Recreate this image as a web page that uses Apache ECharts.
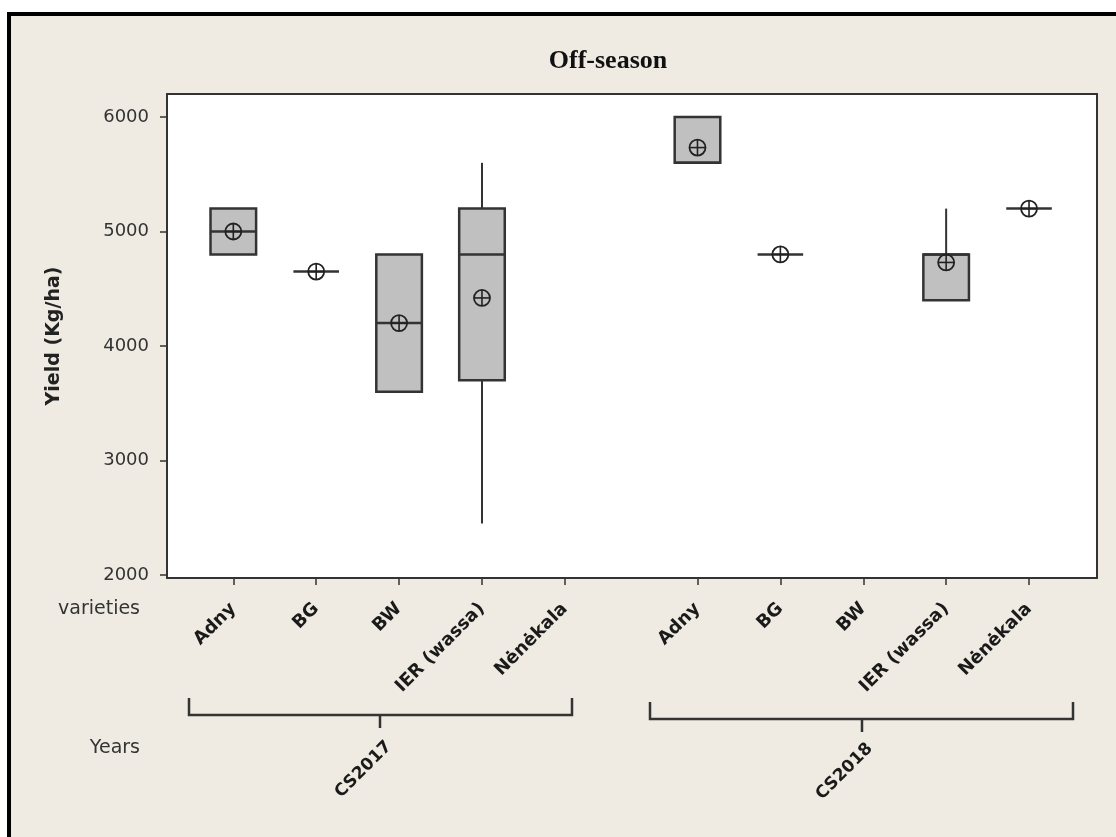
<!DOCTYPE html>
<html><head><meta charset="utf-8">
<script src="https://cdn.jsdelivr.net/npm/echarts@6/dist/echarts.min.js"></script>
<style>html,body{margin:0;padding:0;background:#fff;}#c{width:1116px;height:837px;}</style>
</head><body><div id="c"></div>
<script>
const years = ['CS2017', 'CS2018'];
const varieties = ['Adny', 'BG', 'BW', 'IER (wassa)', 'Nėnėkala'];
const yTicks = [2000, 3000, 4000, 5000, 6000];
// [min, Q1, median, Q3, max] per variety (null = no data)
const box2017 = [[4800, 4800, 5000, 5200, 5200], [4650, 4650, 4650, 4650, 4650], [3600, 3600, 4200, 4800, 4800], [2450, 3700, 4800, 5200, 5600], null];
const mean2017 = [5000, 4650, 4200, 4420, null];
const box2018 = [[5600, 5600, 5600, 6000, 6000], [4800, 4800, 4800, 4800, 4800], null, [4400, 4400, 4800, 4800, 5200], [5200, 5200, 5200, 5200, 5200]];
const mean2018 = [5733, 4800, null, 4730, 5200];

const GROUP_GAP = 0.6;
function pos(yi, vi) { return 1 + vi + yi * (varieties.length + GROUP_GAP); }

const boxes = [box2017, box2018];
const means = [mean2017, mean2018];
const boxData = [], meanData = [], tickVals = [], tickNames = {};
years.forEach((y, yi) => {
  varieties.forEach((v, vi) => {
    const p = pos(yi, vi);
    tickVals.push(p);
    tickNames[Math.round(p * 10)] = v;
    if (boxes[yi][vi]) boxData.push([p].concat(boxes[yi][vi]));
    if (means[yi][vi] != null) meanData.push([p, means[yi][vi]]);
  });
});

const DARK = '#333';
function renderBox(params, api) {
  const x = api.value(0);
  const mn = api.value(1), q1 = api.value(2), md = api.value(3), q3 = api.value(4), mx = api.value(5);
  const w = api.size([0.55, 0])[0];
  const pMin = api.coord([x, mn]), pQ1 = api.coord([x, q1]), pMd = api.coord([x, md]), pQ3 = api.coord([x, q3]), pMax = api.coord([x, mx]);
  const cx = pMin[0];
  const ls = { stroke: DARK, lineWidth: 2 };
  const children = [];
  if (mx > q3) children.push({ type: 'line', shape: { x1: cx, y1: pQ3[1], x2: cx, y2: pMax[1] }, style: ls });
  if (mn < q1) children.push({ type: 'line', shape: { x1: cx, y1: pMin[1], x2: cx, y2: pQ1[1] }, style: ls });
  if (q3 > q1) children.push({ type: 'rect', shape: { x: cx - w / 2, y: pQ3[1], width: w, height: pQ1[1] - pQ3[1] }, style: { fill: '#c0c0c0', stroke: DARK, lineWidth: 2.5 } });
  children.push({ type: 'line', shape: { x1: cx - w / 2, y1: pMd[1], x2: cx + w / 2, y2: pMd[1] }, style: { stroke: DARK, lineWidth: 2.5 } });
  return { type: 'group', children };
}
function renderMean(params, api) {
  const p = api.coord([api.value(0), api.value(1)]);
  const r = 8;
  const st = { stroke: '#222', lineWidth: 1.6 };
  return { type: 'group', children: [
    { type: 'circle', shape: { cx: p[0], cy: p[1], r: r }, style: { fill: 'transparent', stroke: '#222', lineWidth: 1.8 } },
    { type: 'line', shape: { x1: p[0] - r, y1: p[1], x2: p[0] + r, y2: p[1] }, style: st },
    { type: 'line', shape: { x1: p[0], y1: p[1] - r, x2: p[0], y2: p[1] + r }, style: st }
  ] };
}

const chart = echarts.init(document.getElementById('c'), null, { renderer: 'canvas' });
const FONT = 'DejaVu Sans';
chart.setOption({
  backgroundColor: '#efebe2',
  animation: false,
  title: {
    text: 'Off-season', left: 603, top: 43, textAlign: 'center',
    textStyle: { fontFamily: 'Liberation Serif', fontWeight: 'bold', fontSize: 26, color: '#111' }
  },
  grid: { left: 167, right: 19, top: 94, bottom: 259, show: true, backgroundColor: '#fff', borderColor: DARK, borderWidth: 2 },
  xAxis: {
    type: 'value', min: 0.2, max: 11.42,
    axisLine: { show: false },
    splitLine: { show: false },
    axisTick: { show: true, customValues: tickVals, length: 7, lineStyle: { color: DARK, width: 1.5 } },
    axisLabel: {
      customValues: tickVals, rotate: 45, margin: 28,
      fontFamily: FONT, fontSize: 18, fontWeight: 'bold', color: '#1a1a1a',
      formatter: v => tickNames[Math.round(v * 10)] || ''
    }
  },
  yAxis: {
    type: 'value', min: 1974, max: 6201,
    name: 'Yield (Kg/ha)', nameLocation: 'middle', nameGap: 103,
    nameTextStyle: { fontFamily: FONT, fontWeight: 'bold', fontSize: 19, color: '#222' },
    axisLine: { show: false },
    splitLine: { show: false },
    axisTick: { show: true, customValues: yTicks, length: 7, lineStyle: { color: DARK, width: 1.5 } },
    axisLabel: { customValues: yTicks, margin: 18, fontFamily: FONT, fontSize: 18, color: '#333', formatter: v => String(v) }
  },
  series: [
    { type: 'custom', name: 'box', renderItem: renderBox, data: boxData, encode: { x: 0, y: [1, 2, 3, 4, 5] }, z: 3 },
    { type: 'custom', name: 'mean', renderItem: renderMean, data: meanData, encode: { x: 0, y: 1 }, z: 4 }
  ],
  graphic: [
    { type: 'rect', shape: { x: 0, y: 0, width: 1116, height: 12 }, style: { fill: '#fff' } },
    { type: 'rect', shape: { x: 0, y: 0, width: 7, height: 837 }, style: { fill: '#fff' } },
    { type: 'rect', shape: { x: 7, y: 12, width: 1109, height: 4 }, style: { fill: '#000' } },
    { type: 'rect', shape: { x: 7, y: 12, width: 4, height: 825 }, style: { fill: '#000' } },
    { type: 'text', x: 140, y: 609, style: { text: 'varieties', font: '19px "DejaVu Sans"', fill: '#333', align: 'right', verticalAlign: 'middle' } },
    { type: 'text', x: 140, y: 748, style: { text: 'Years', font: '19px "DejaVu Sans"', fill: '#333', align: 'right', verticalAlign: 'middle' } },
    { type: 'polyline', shape: { points: [[189, 698], [189, 715], [572, 715], [572, 698]] }, style: { stroke: DARK, lineWidth: 2.5, fill: null } },
    { type: 'line', shape: { x1: 380, y1: 715, x2: 380, y2: 728 }, style: { stroke: DARK, lineWidth: 2.5 } },
    { type: 'polyline', shape: { points: [[650, 702], [650, 719], [1073, 719], [1073, 702]] }, style: { stroke: DARK, lineWidth: 2.5, fill: null } },
    { type: 'line', shape: { x1: 862, y1: 719, x2: 862, y2: 732 }, style: { stroke: DARK, lineWidth: 2.5 } },
    { type: 'text', x: 389, y: 744, rotation: Math.PI / 4, style: { text: years[0], font: 'bold 17px "DejaVu Sans"', fill: '#1a1a1a', align: 'right', verticalAlign: 'middle' } },
    { type: 'text', x: 870, y: 746, rotation: Math.PI / 4, style: { text: years[1], font: 'bold 17px "DejaVu Sans"', fill: '#1a1a1a', align: 'right', verticalAlign: 'middle' } }
  ]
});
</script></body></html>
